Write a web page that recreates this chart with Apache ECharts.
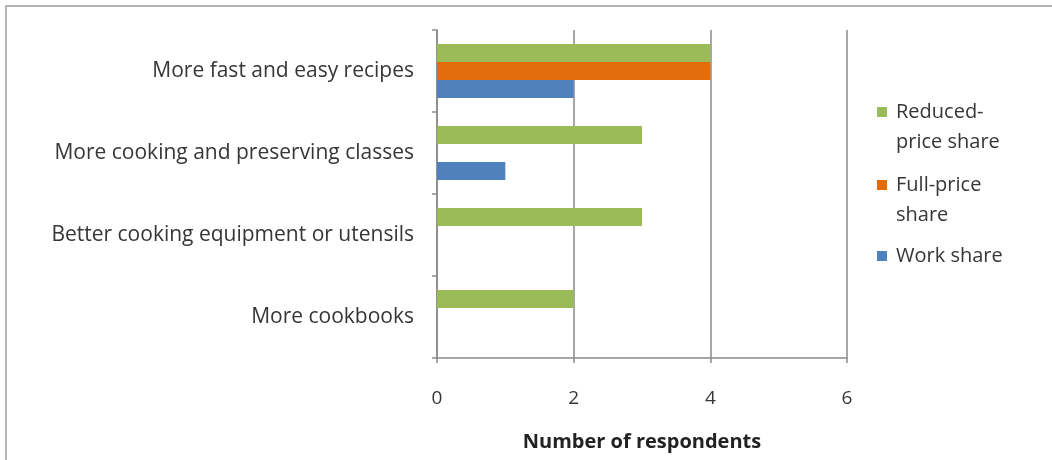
<!DOCTYPE html>
<html>
<head>
<meta charset="utf-8">
<script src="https://cdn.jsdelivr.net/npm/echarts@6/dist/echarts.min.js"></script>
<style>
  html, body { margin: 0; padding: 0; background: #ffffff; }
  #chart { width: 1052px; height: 460px; }
</style>
</head>
<body>
<div id="chart"></div>
<script>
// Survey responses: what would help members cook more at home
const categories = [
  'More fast and easy recipes',
  'More cooking and preserving classes',
  'Better cooking equipment or utensils',
  'More cookbooks'
];
const reducedPrice = [4, 3, 3, 2];
const fullPrice = [4, 0, 0, 0];
const workShare = [2, 1, 0, 0];

const seriesNames = ['Reduced-price share', 'Full-price share', 'Work share'];
const legendLabels = [['Reduced-', 'price share'], ['Full-price', 'share'], ['Work share']];
const xTicks = [0, 2, 4, 6];
const xTitle = 'Number of respondents';

const FONT = '"Open Sans", "Liberation Sans", sans-serif';
const TEXT = '#363636';
const AXIS = '#8a8a8a';
const colors = ['#9bbb59', '#e36c0a', '#4f81bd'];
const LEGEND_LH = 30;

const chart = echarts.init(document.getElementById('chart'), null, { renderer: 'canvas' });

// One legend block per series. Legend text is centred on its swatch, so a
// wrapped label gets a blank lead line to keep the swatch beside its first line.
function legendFor(i, swatchY) {
  const lines = legendLabels[i];
  const text = lines.length > 1 ? [' '].concat(lines).join('\n') : lines[0];
  const nLines = lines.length > 1 ? lines.length + 1 : 1;
  return {
    show: true,
    orient: 'vertical',
    left: 877,
    top: swatchY - (nLines * LEGEND_LH) / 2,
    padding: 0,
    itemWidth: 10,
    itemHeight: 10,
    icon: 'rect',
    selectedMode: false,
    data: [seriesNames[i]],
    formatter: () => text,
    textStyle: { fontFamily: FONT, fontSize: 20, color: TEXT, lineHeight: LEGEND_LH, padding: [0, 0, 0, 4] }
  };
}

const option = {
  backgroundColor: '#ffffff',
  animation: false,
  color: colors,
  textStyle: { fontFamily: FONT },
  grid: { left: 437, right: 205, top: 30, bottom: 102, containLabel: false },
  legend: [
    legendFor(0, 112),
    legendFor(1, 185),
    legendFor(2, 256)
  ],
  xAxis: {
    type: 'value',
    min: xTicks[0],
    max: xTicks[xTicks.length - 1],
    interval: 2,
    name: xTitle,
    nameLocation: 'middle',
    nameGap: 74,
    nameTextStyle: { fontFamily: FONT, fontSize: 20, fontWeight: 'bold', color: '#222222' },
    axisLine: { show: true, lineStyle: { color: AXIS, width: 1.5 } },
    axisTick: { show: true, inside: false, length: 5, lineStyle: { color: AXIS, width: 1.5 } },
    axisLabel: { fontFamily: FONT, fontSize: 19, color: TEXT, margin: 31 },
    splitLine: { show: true, lineStyle: { color: AXIS, width: 1.5 } }
  },
  yAxis: {
    type: 'category',
    inverse: true,
    data: categories,
    axisLine: { show: true, lineStyle: { color: AXIS, width: 1.5 } },
    axisTick: { show: true, inside: false, length: 5, alignWithLabel: false, lineStyle: { color: AXIS, width: 1.5 } },
    axisLabel: { fontFamily: FONT, fontSize: 21, color: TEXT, margin: 23 },
    splitLine: { show: false }
  },
  series: [
    { name: seriesNames[0], type: 'bar', data: reducedPrice, barWidth: 18, barGap: '0%' },
    { name: seriesNames[1], type: 'bar', data: fullPrice, barWidth: 18, barGap: '0%' },
    { name: seriesNames[2], type: 'bar', data: workShare, barWidth: 18, barGap: '0%' }
  ],
  graphic: [{
    type: 'rect',
    silent: true,
    shape: { x: 6, y: 6, width: 1200, height: 600 },
    style: { fill: 'none', stroke: '#b4b4b4', lineWidth: 2 }
  }]
};

chart.setOption(option);
</script>
</body>
</html>
